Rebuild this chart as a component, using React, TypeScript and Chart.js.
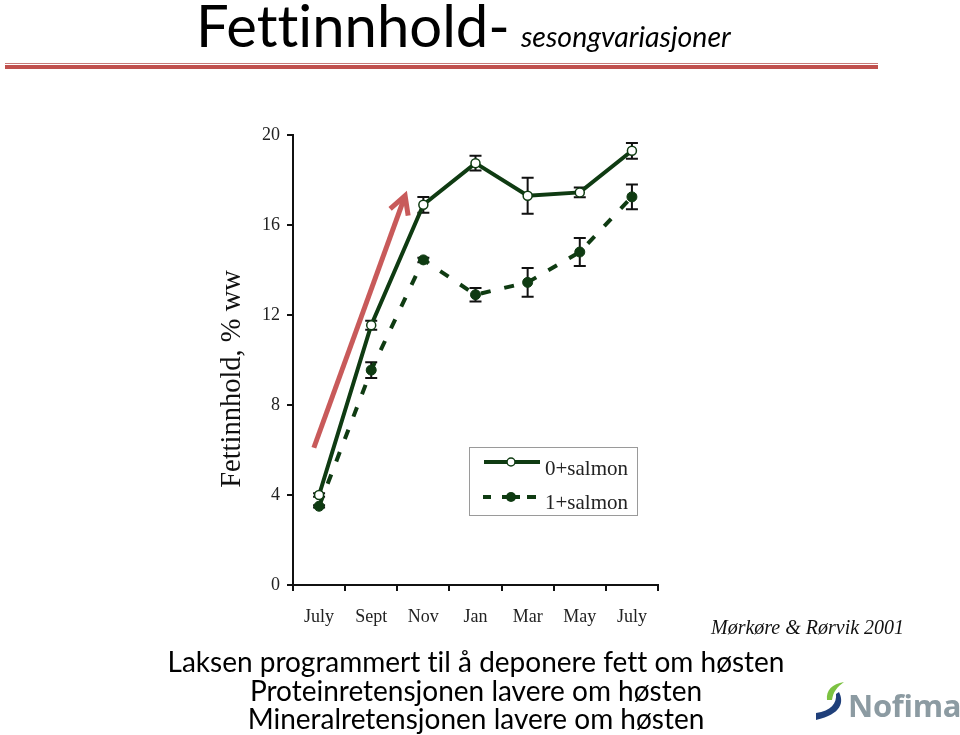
import React, { useEffect, useRef } from "react";
import { Chart, registerables } from "chart.js";
Chart.register(...registerables);

const categories = ["July", "Sept", "Nov", "Jan", "Mar", "May", "July"];
const salmon0 = [4.0, 11.55, 16.9, 18.75, 17.3, 17.45, 19.3];
const salmon0Err = [0.08, 0.2, 0.35, 0.33, 0.8, 0.22, 0.35];
const salmon1 = [3.5, 9.55, 14.45, 12.9, 13.45, 14.8, 17.25];
const salmon1Err = [0.05, 0.35, 0.1, 0.3, 0.64, 0.62, 0.55];
const yMin = 0;
const yMax = 20;
const yStep = 4;
const yTitle = "Fettinnhold, % ww";
const seriesNames = ["0+salmon", "1+salmon"];
const arrowFrom = { x: -0.1, y: 6.1 };
const arrowTo = { x: 1.65, y: 17.3 };

const GREEN = "#0f3b12";
const RED = "#c85a5a";
const SERIF = "'Liberation Serif', 'Times New Roman', serif";
const errors = [salmon0Err, salmon1Err];

const errorBarPlugin = {
  id: "errorBars",
  beforeDatasetsDraw(chart: any) {
    const ctx = chart.ctx;
    const y = chart.scales.y;
    ctx.save();
    ctx.strokeStyle = "#111";
    ctx.lineWidth = 2;
    chart.data.datasets.forEach((ds: any, di: number) => {
      const meta = chart.getDatasetMeta(di);
      meta.data.forEach((pt: any, i: number) => {
        const v = ds.data[i];
        const e = errors[di][i];
        const top = y.getPixelForValue(v + e);
        const bot = y.getPixelForValue(v - e);
        const x = pt.x;
        ctx.beginPath();
        ctx.moveTo(x, top);
        ctx.lineTo(x, bot);
        ctx.moveTo(x - 6, top);
        ctx.lineTo(x + 6, top);
        ctx.moveTo(x - 6, bot);
        ctx.lineTo(x + 6, bot);
        ctx.stroke();
      });
    });
    ctx.restore();
  },
};

const arrowPlugin = {
  id: "arrow",
  afterDatasetsDraw(chart: any) {
    const ctx = chart.ctx;
    const xs = chart.scales.x;
    const ys = chart.scales.y;
    const x0 = xs.getPixelForValue(arrowFrom.x);
    const y0 = ys.getPixelForValue(arrowFrom.y);
    const x1 = xs.getPixelForValue(arrowTo.x);
    const y1 = ys.getPixelForValue(arrowTo.y);
    const ang = Math.atan2(y1 - y0, x1 - x0);
    const head = 20;
    ctx.save();
    ctx.strokeStyle = RED;
    ctx.lineWidth = 5;
    ctx.beginPath();
    ctx.moveTo(x0, y0);
    ctx.lineTo(x1 - Math.cos(ang) * 2, y1 - Math.sin(ang) * 2);
    ctx.stroke();
    ctx.lineJoin = "miter";
    ctx.beginPath();
    ctx.moveTo(x1 - head * Math.cos(ang - 0.5), y1 - head * Math.sin(ang - 0.5));
    ctx.lineTo(x1, y1);
    ctx.lineTo(x1 - head * Math.cos(ang + 0.5), y1 - head * Math.sin(ang + 0.5));
    ctx.stroke();
    ctx.restore();
  },
};

const axisTitlePlugin = {
  id: "axisTitle",
  afterDraw(chart: any) {
    const ctx = chart.ctx;
    ctx.save();
    ctx.translate(233, 379);
    ctx.rotate(-Math.PI / 2);
    ctx.fillStyle = "#111";
    ctx.font = "28.5px " + SERIF;
    ctx.textAlign = "center";
    ctx.textBaseline = "middle";
    ctx.fillText(yTitle, 0, 0);
    ctx.restore();
  },
};

const legendPlugin = {
  id: "customLegend",
  afterDraw(chart: any) {
    const ctx = chart.ctx;
    const bx = 469, by = 447, bw = 168, bh = 68;
    ctx.save();
    ctx.strokeStyle = "#9a9a9a";
    ctx.lineWidth = 1;
    ctx.strokeRect(bx + 0.5, by + 0.5, bw, bh);
    ctx.strokeStyle = GREEN;
    ctx.lineWidth = 4;
    ctx.beginPath();
    ctx.moveTo(484, 462);
    ctx.lineTo(540, 462);
    ctx.stroke();
    ctx.fillStyle = "#fff";
    ctx.lineWidth = 1.5;
    ctx.beginPath();
    ctx.arc(511, 462, 4, 0, Math.PI * 2);
    ctx.fill();
    ctx.stroke();
    ctx.lineWidth = 4;
    ctx.beginPath();
    ctx.moveTo(483, 497);
    ctx.lineTo(491, 497);
    ctx.moveTo(527, 497);
    ctx.lineTo(536, 497);
    ctx.moveTo(502, 497);
    ctx.lineTo(520, 497);
    ctx.stroke();
    ctx.fillStyle = GREEN;
    ctx.beginPath();
    ctx.arc(511, 497, 5, 0, Math.PI * 2);
    ctx.fill();
    ctx.fillStyle = "#222";
    ctx.font = "21px " + SERIF;
    ctx.textBaseline = "middle";
    ctx.fillText(seriesNames[0], 545, 469);
    ctx.fillText(seriesNames[1], 545, 503);
    ctx.restore();
  },
};

function ChartView() {
  const ref = useRef<HTMLCanvasElement>(null);
  useEffect(() => {
    if (!ref.current) return;
    const chart = new Chart(ref.current, {
      type: "line",
      data: {
        labels: categories,
        datasets: [
          {
            label: seriesNames[0],
            data: salmon0,
            borderColor: GREEN,
            borderWidth: 4,
            pointRadius: 4.5,
            pointBorderWidth: 1.5,
            pointBackgroundColor: "#ffffff",
            pointBorderColor: GREEN,
            tension: 0,
          },
          {
            label: seriesNames[1],
            data: salmon1,
            borderColor: GREEN,
            borderWidth: 4,
            borderDash: [10, 14],
            pointRadius: 5,
            pointBorderWidth: 1,
            pointBackgroundColor: GREEN,
            pointBorderColor: GREEN,
            tension: 0,
          },
        ],
      },
      options: {
        animation: false,
        responsive: false,
        maintainAspectRatio: false,
        layout: { padding: { left: 215, right: 302, top: 135, bottom: 100 } },
        plugins: { legend: { display: false }, tooltip: { enabled: false } },
        scales: {
          x: {
            offset: true,
            grid: { offset: true, drawOnChartArea: false, tickLength: 6, color: "#111", lineWidth: 2 },
            border: { color: "#111", width: 2 },
            ticks: {
              color: "#222",
              padding: 15,
              font: { family: SERIF, size: 18 },
              maxRotation: 0,
              autoSkip: false,
            },
            afterFit: (s: any) => { s.height = 50; },
          },
          y: {
            min: yMin,
            max: yMax,
            grid: { drawOnChartArea: false, tickLength: 6, color: "#111", lineWidth: 2 },
            border: { color: "#111", width: 2 },
            ticks: {
              stepSize: yStep,
              color: "#222",
              padding: 7,
              font: { family: SERIF, size: 18 },
            },
            afterFit: (s: any) => { s.width = 78; },
          },
        },
      },
      plugins: [errorBarPlugin, arrowPlugin, axisTitlePlugin, legendPlugin],
    } as any);
    return () => chart.destroy();
  }, []);
  return <canvas ref={ref} width={960} height={735} style={{ position: "absolute", left: 0, top: 0 }} />;
}

export default function App() {
  const sans = "Lato, 'Open Sans', sans-serif";
  return (
    <div style={{ position: "absolute", left: 0, top: 0, width: 960, height: 735, background: "#fff", overflow: "hidden" }}>
      <ChartView />
      <div style={{ position: "absolute", left: 196, top: -10, whiteSpace: "nowrap", fontFamily: sans, color: "#000", fontVariantLigatures: "none" }}>
        <span style={{ fontSize: 58 }}>Fettinnhold-</span>
        <span style={{ fontSize: 28.5, fontStyle: "italic", marginLeft: 11 }}>sesongvariasjoner</span>
      </div>
      <div style={{ position: "absolute", left: 5, top: 63, width: 873, height: 1, background: "#c87a78" }} />
      <div style={{ position: "absolute", left: 5, top: 65, width: 873, height: 4, background: "#c0504d" }} />
      <div style={{ position: "absolute", left: 711, top: 616, whiteSpace: "nowrap", fontFamily: SERIF, fontStyle: "italic", fontSize: 20, color: "#111" }}>
        Mørkøre &amp; Rørvik 2001
      </div>
      <div style={{ position: "absolute", left: 0, top: 647, width: 952, textAlign: "center", fontFamily: sans, fontSize: 28, lineHeight: "28.5px", color: "#000", fontVariantLigatures: "none" }}>
        <div>Laksen programmert til å deponere fett om høsten</div>
        <div>Proteinretensjonen lavere om høsten</div>
        <div>Mineralretensjonen lavere om høsten</div>
      </div>
      <svg style={{ position: "absolute", left: 812, top: 676 }} width={40} height={50} viewBox="0 0 40 50">
        <path d="M15 24 C 14 14, 20 8, 32 6 C 25 11, 21 16, 20 24 Z" fill="#7cc242" />
        <path d="M27 16 C 32 26, 30 38, 4 44 L 4 37 C 19 35, 25 27, 24 18 Z" fill="#1f3f7a" />
      </svg>
      <div style={{ position: "absolute", left: 848, top: 685, whiteSpace: "nowrap", fontFamily: "'Open Sans', sans-serif", fontWeight: 700, fontSize: 31, lineHeight: "40px", color: "#8c9ba2", letterSpacing: -0.3 }}>
        Nofima
      </div>
    </div>
  );
}
